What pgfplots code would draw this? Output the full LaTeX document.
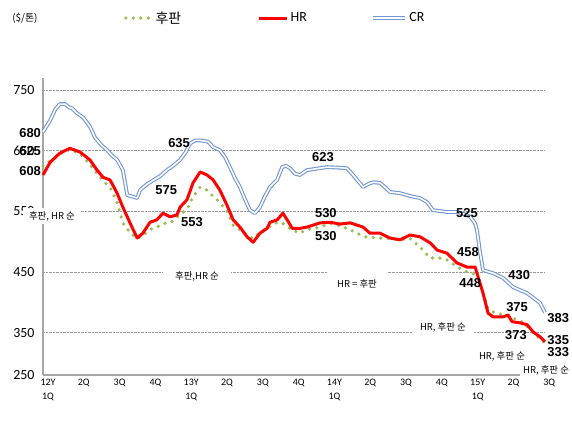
\documentclass[border=0pt]{standalone}
\usepackage{fontspec}
\usepackage{pgfplots}
\pgfplotsset{compat=1.18}
\usepackage{pgfplotstable}
\setmainfont{Carlito}
\newfontfamily\kr{Noto Sans CJK KR}
\newfontfamily\numf{Liberation Sans}
\definecolor{hrred}{RGB}{255,0,0}
\definecolor{plgreen}{RGB}{155,187,89}
\definecolor{crblue}{RGB}{115,150,205}

\pgfplotstableread{
q v
0 625
0.2 633
0.47 645
0.75 652
1.03 645
1.31 628
1.51 612
1.68 600
1.87 590
2.07 565
2.23 531
2.43 515
2.63 505
2.79 510
2.99 520
3.18 524
3.35 530
3.55 531
3.74 540
3.83 545
4.02 553
4.19 574
4.39 590
4.58 585
4.75 575
4.94 565
5.14 550
5.31 527
5.50 520
5.70 511
5.87 505
6.06 516
6.26 522
6.54 532
6.70 530
6.82 525
6.96 519
7.18 514
7.37 520
7.74 524
8.02 530
8.30 526
8.49 522
8.77 514
9.00 508
9.41 506
9.69 505
9.97 503
10.25 505
10.53 491
10.81 473
11.10 473
11.28 470
11.60 457
11.84 450
12.00 448
12.15 440
12.29 415
12.43 390
12.57 384
12.85 379
13.10 374
13.32 370
13.52 360
13.69 349
13.88 340
14.02 333
}\hupandata

\pgfplotstableread{
q v
0 610
0.2 631
0.47 646
0.75 654
1.03 648
1.31 635
1.51 618
1.68 606
1.87 602
2.07 580
2.23 557
2.43 531
2.63 506
2.79 514
2.99 532
3.18 536
3.35 547
3.55 541
3.74 544
3.83 557
4.02 569
4.19 597
4.39 615
4.58 610
4.75 602
4.94 585
5.14 560
5.31 536
5.50 524
5.70 508
5.87 499
6.06 514
6.26 522
6.34 532
6.54 536
6.70 547
6.82 536
6.96 522
7.18 522
7.37 524
7.74 531
8.02 532
8.30 529
8.58 531
8.94 524
9.13 514
9.41 514
9.69 506
9.97 503
10.25 511
10.53 508
10.81 498
11.01 486
11.28 481
11.56 465
11.84 458
12.07 458
12.15 442
12.29 415
12.43 382
12.57 376
12.85 376
12.99 379
13.10 368
13.32 366
13.52 363
13.69 351
13.88 343
14.02 335
}\hrdata

\pgfplotstableread{
q v
0 681
0.2 700
0.34 718
0.47 727
0.62 727
0.72 722
0.81 720
0.95 712
1.12 705
1.31 690
1.45 672
1.62 660
1.79 651
1.93 642
2.07 635
2.23 618
2.30 595
2.35 577
2.63 572
2.71 585
2.91 595
3.07 601
3.27 608
3.46 618
3.63 625
3.83 635
3.99 648
4.11 662
4.25 667
4.39 667
4.61 665
4.75 656
4.94 651
5.08 640
5.22 623
5.36 605
5.50 590
5.64 570
5.78 552
5.92 547
6.06 557
6.20 575
6.34 590
6.54 602
6.68 623
6.79 625
6.90 621
7.04 612
7.18 610
7.37 618
7.60 620
7.93 623
8.30 622
8.49 621
8.63 612
8.77 602
8.94 590
9.08 595
9.22 598
9.41 597
9.55 590
9.69 582
9.97 580
10.34 574
10.53 572
10.73 565
10.89 552
11.28 549
11.56 549
11.79 545
11.93 541
12.07 530
12.12 519
12.21 481
12.29 453
12.57 448
12.85 440
13.13 425
13.52 415
13.88 399
14.02 383
}\crdata

\begin{document}
\begin{tikzpicture}
\begin{axis}[
  scale only axis, width=502bp, height=297bp,
  at={(0,0)}, anchor=south west,
  xmin=0, xmax=14.02, ymin=280, ymax=770,
  clip=false,
  axis x line*=bottom, axis y line*=left,
  axis line style={draw=black!35, line width=1.3pt},
  major tick length=0pt,
  /pgf/number format/assume math mode=true,
  xtick={0,...,14},
  xticklabels={{12Y\\1Q},2Q,3Q,4Q,{13Y\\1Q},2Q,3Q,4Q,{14Y\\1Q},2Q,3Q,4Q,{15Y\\1Q},2Q,3Q},
  xticklabel style={align=center, font=\fontsize{10}{14}\selectfont, xshift=5bp, anchor=north, yshift=-1bp},
  ytick={350,450,550,650,750},
  yticklabel style={font=\fontsize{14}{16}\selectfont, xshift=-5bp},
  extra y ticks={280}, extra y tick labels={250},
  extra y tick style={grid=none},
  ymajorgrids,
  grid style={densely dotted, black!40, line width=0.7pt},
  legend columns=3,
  legend style={at={(0.161,1.202)}, anchor=west, draw=none, fill=none, inner sep=0pt,
    font=\fontsize{14}{16}\selectfont},
]
\addplot[plgreen, line width=3.6pt, line cap=round, dash pattern=on 0pt off 7.5pt,
  legend image code/.code={\draw[plgreen, line width=3.6pt, line cap=round, dash pattern=on 0pt off 7.5pt] (2bp,0) -- (28bp,0);}] table {\hupandata};
\addplot[hrred, line width=3pt, line join=round,
  legend image code/.code={\draw[hrred, line width=3pt] (0bp,0) -- (28bp,0);}] table {\hrdata};
\addplot[crblue, line width=3.8pt, line join=round,
  legend image code/.code={\draw[crblue, line width=3.8pt] (0bp,0) -- (32bp,0); \draw[white, line width=1.6pt] (0bp,0) -- (32bp,0);}] table {\crdata};
\addplot[white, line width=1.6pt, line join=round, forget plot] table {\crdata};
\legend{\makebox[100bp][l]{\kr 후판},\makebox[79bp][l]{HR},CR}
\coordinate (n680) at (axis cs:-0.36,679);
\coordinate (n625) at (axis cs:-0.36,649);
\coordinate (n608) at (axis cs:-0.36,616);
\coordinate (k1) at (axis cs:0.25,542);
\coordinate (n635) at (axis cs:3.8,662);
\coordinate (n575) at (axis cs:3.44,585);
\coordinate (n553) at (axis cs:4.16,532);
\coordinate (n623) at (axis cs:7.82,639);
\coordinate (n530a) at (axis cs:7.9,547);
\coordinate (n530b) at (axis cs:7.9,509);
\coordinate (n525) at (axis cs:11.84,547);
\coordinate (n458) at (axis cs:11.87,483);
\coordinate (n448) at (axis cs:11.93,432);
\coordinate (n430) at (axis cs:13.3,445);
\coordinate (n375) at (axis cs:13.24,392);
\coordinate (n373) at (axis cs:13.21,346);
\coordinate (n383) at (axis cs:14.39,374);
\coordinate (n335) at (axis cs:14.39,338);
\coordinate (n333) at (axis cs:14.39,318);
\coordinate (k2) at (axis cs:4.3,442);
\coordinate (k3) at (axis cs:8.77,430);
\coordinate (k4) at (axis cs:11.17,359);
\coordinate (k5) at (axis cs:12.82,310);
\coordinate (k6) at (axis cs:14.05,287);
\coordinate (unit) at (rel axis cs:-0.036,1.202);
\end{axis}
\path[use as bounding box] (-43bp,-50bp) rectangle (529bp,375bp);
\tikzset{num/.style={font=\fontsize{13}{13}\selectfont\numf\bfseries, inner sep=0pt},
  kor/.style={font=\fontsize{9.5}{10}\selectfont\kr, fill=white, inner xsep=3bp, inner ysep=3bp}}
\node[num] at (n680) {680};
\node[num] at (n625) {625};
\node[num] at (n608) {608};
\node[num] at (n635) {635};
\node[num] at (n575) {575};
\node[num] at (n553) {553};
\node[num] at (n623) {623};
\node[num] at (n530a) {530};
\node[num] at (n530b) {530};
\node[num] at (n525) {525};
\node[num] at (n458) {458};
\node[num] at (n448) {448};
\node[num] at (n430) {430};
\node[num] at (n375) {375};
\node[num] at (n373) {373};
\node[num] at (n383) {383};
\node[num] at (n335) {335};
\node[num] at (n333) {333};
\node[kor, inner xsep=6bp] at (k1) {후판, HR 순};
\node[kor, inner xsep=12bp] at (k2) {후판,HR 순};
\node[kor, inner xsep=10bp, inner ysep=8bp] at (k3) {HR = 후판};
\node[kor, inner xsep=8bp] at (k4) {HR, 후판 순};
\node[kor] at (k5) {HR, 후판 순};
\node[kor, inner ysep=2bp] at (k6) {HR, 후판 순};
\node[font=\fontsize{10}{11}\selectfont\kr] at (unit) {(\$/톤)};
\end{tikzpicture}
\end{document}
